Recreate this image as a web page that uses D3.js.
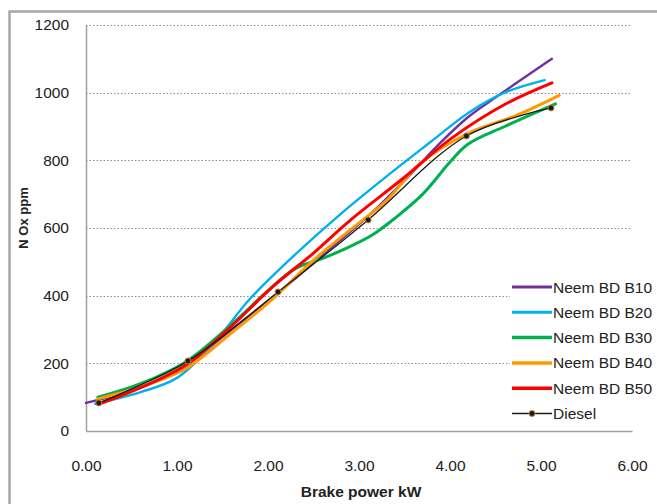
<!DOCTYPE html>
<html>
<head>
<meta charset="utf-8">
<script src="https://cdn.jsdelivr.net/npm/d3@7"></script>
<style>
  body { margin: 0; background: #fff; }
  text { font-family: "Liberation Sans", Arial, sans-serif; fill: #222; }
</style>
</head>
<body>
<div id="container"></div>
<script>
// NOx emission vs brake power, neem biodiesel blends and diesel
const b10 = [[0.00, 83], [0.60, 128], [1.10, 195], [1.60, 300], [2.10, 405], [2.60, 520], [3.10, 635], [3.50, 740], [3.85, 840], [4.20, 928], [4.55, 995], [5.12, 1100]];
const b20 = [[0.10, 80], [0.60, 115], [1.00, 157], [1.40, 258], [1.80, 390], [2.30, 522], [2.80, 642], [3.30, 752], [3.80, 857], [4.20, 940], [4.60, 1000], [5.04, 1037]];
const b30 = [[0.13, 100], [0.60, 140], [1.10, 205], [1.60, 315], [2.00, 415], [2.30, 480], [2.60, 510], [2.90, 545], [3.15, 580], [3.40, 630], [3.70, 700], [4.00, 795], [4.20, 848], [4.60, 900], [5.16, 967]];
const b40 = [[0.13, 95], [0.60, 130], [1.10, 185], [1.60, 290], [2.05, 390], [2.50, 505], [3.00, 615], [3.30, 680], [3.67, 790], [4.20, 880], [4.75, 935], [5.20, 992]];
const b50 = [[0.15, 80], [0.60, 128], [1.10, 195], [1.60, 310], [2.05, 426], [2.50, 526], [2.90, 622], [3.50, 750], [4.00, 862], [4.60, 965], [5.12, 1029]];
const diesel = [[0.14, 83], [1.12, 207], [2.11, 411], [3.10, 624], [4.18, 872], [5.11, 955]];

const xTicks = [0, 1, 2, 3, 4, 5, 6];
const yTicks = [0, 200, 400, 600, 800, 1000, 1200];

const series = [
  { name: "Neem BD B10", data: b10, color: "#7030a0", width: 2.4 },
  { name: "Neem BD B20", data: b20, color: "#00b0f0", width: 2.4 },
  { name: "Neem BD B30", data: b30, color: "#00b050", width: 3 },
  { name: "Neem BD B40", data: b40, color: "#ff9900", width: 3 },
  { name: "Neem BD B50", data: b50, color: "#ff0000", width: 3 },
  { name: "Diesel", data: diesel, color: "#1a1a1a", width: 1.3, marker: true }
];

const W = 657, H = 504;
const plot = { left: 86, right: 632, top: 25, bottom: 431 };

const svg = d3.select("#container")
  .append("svg")
  .attr("width", W)
  .attr("height", H);

// chart area frame (only top/left edges fall inside the window)
svg.append("rect")
  .attr("x", 9.5)
  .attr("y", 11.5)
  .attr("width", W + 20)
  .attr("height", H + 20)
  .attr("fill", "#fff")
  .attr("stroke", "#a6a6a6")
  .attr("stroke-width", 2.5);

const x = d3.scaleLinear().domain([0, 6]).range([plot.left, plot.right]);
const y = d3.scaleLinear().domain([0, 1200]).range([plot.bottom, plot.top]);

// dotted gridlines
svg.append("g")
  .selectAll("line")
  .data(yTicks.filter(d => d > 0))
  .join("line")
  .attr("x1", plot.left)
  .attr("x2", plot.right)
  .attr("y1", d => Math.round(y(d)) + 0.5)
  .attr("y2", d => Math.round(y(d)) + 0.5)
  .attr("stroke", "#8c8c8c")
  .attr("stroke-width", 1)
  .attr("stroke-dasharray", "1.5,2");

// axes
const xAxis = svg.append("g")
  .attr("transform", `translate(0,${plot.bottom})`)
  .call(d3.axisBottom(x).tickValues(xTicks).tickFormat(d3.format(".2f")).tickSize(0).tickPadding(29));
const yAxis = svg.append("g")
  .attr("transform", `translate(${plot.left},0)`)
  .call(d3.axisLeft(y).tickValues(yTicks).tickFormat(d3.format("d")).tickSize(0).tickPadding(17));

[xAxis, yAxis].forEach(ax => {
  ax.select(".domain").attr("stroke", "#a0a0a0").attr("stroke-width", 1.5);
  ax.selectAll("text")
    .style("font-family", "'Liberation Sans', Arial, sans-serif")
    .style("font-size", "15.5px")
    .attr("fill", "#222");
});

// axis titles
svg.append("text")
  .attr("x", 361)
  .attr("y", 497)
  .attr("text-anchor", "middle")
  .style("font-size", "15.5px")
  .style("font-weight", "bold")
  .text("Brake power kW");

svg.append("text")
  .attr("transform", "translate(28,218) rotate(-90)")
  .attr("text-anchor", "middle")
  .style("font-size", "13px")
  .style("font-weight", "bold")
  .text("N Ox ppm");

// curves
const line = d3.line()
  .x(d => x(d[0]))
  .y(d => y(d[1]))
  .curve(d3.curveCatmullRom.alpha(0.5));

series.forEach(s => {
  svg.append("path")
    .datum(s.data)
    .attr("fill", "none")
    .attr("stroke", s.color)
    .attr("stroke-width", s.width)
    .attr("stroke-linejoin", "round")
    .attr("stroke-linecap", "round")
    .attr("d", line);

  if (s.marker) {
    svg.append("g")
      .selectAll("circle")
      .data(s.data)
      .join("circle")
      .attr("cx", d => x(d[0]))
      .attr("cy", d => y(d[1]))
      .attr("r", 3)
      .attr("fill", "#1a1a1a")
      .attr("stroke", "#c8823c")
      .attr("stroke-width", 1);
  }
});

// legend
const legend = svg.append("g").attr("transform", "translate(510,276)");

legend.append("rect")
  .attr("width", 150)
  .attr("height", 150)
  .attr("fill", "#fff");

series.forEach((s, i) => {
  const item = legend.append("g").attr("transform", `translate(0,${11 + i * 25.3})`);
  item.append("line")
    .attr("x1", 2)
    .attr("x2", 42)
    .attr("stroke", s.color)
    .attr("stroke-width", s.marker ? 1.5 : s.width + 0.5);
  if (s.marker) {
    item.append("circle")
      .attr("cx", 22)
      .attr("r", 3)
      .attr("fill", "#1a1a1a")
      .attr("stroke", "#c8823c")
      .attr("stroke-width", 1);
  }
  item.append("text")
    .attr("x", 43)
    .attr("y", 5.5)
    .style("font-size", "15.5px")
    .text(s.name);
});
</script>
</body>
</html>
